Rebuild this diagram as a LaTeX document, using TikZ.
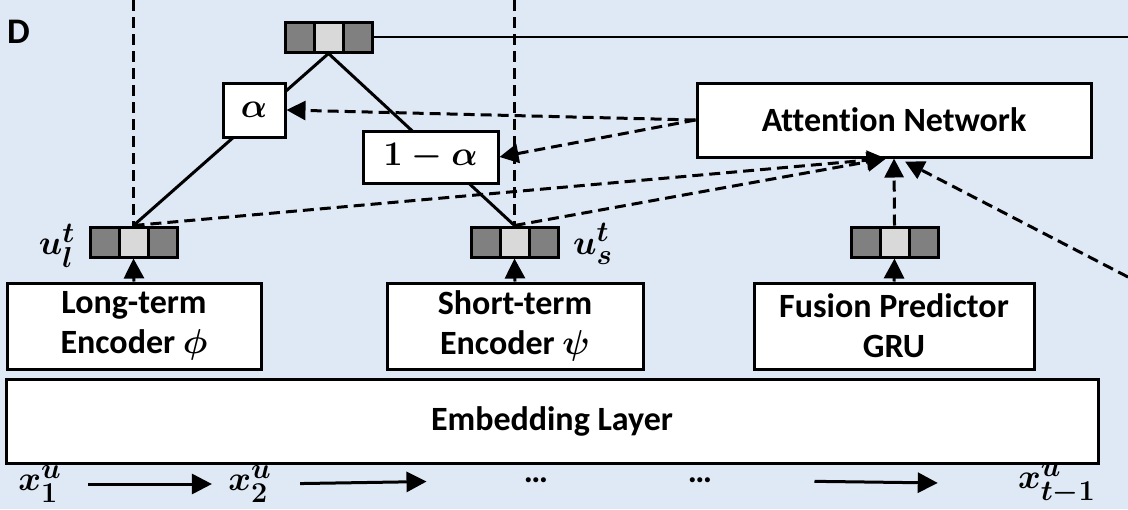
\documentclass[tikz,border=0pt]{standalone}
\usepackage{fontspec}
\setmainfont{Carlito}[Ligatures=NoCommon]
\usepackage{amsmath,bm}
\usetikzlibrary{arrows.meta,calc}
\pgfdeclarelayer{bg}
\pgfdeclarelayer{lines}
\pgfsetlayers{bg,lines,main}
\definecolor{bgblue}{HTML}{DEE9F5}
\definecolor{cdark}{HTML}{808080}
\definecolor{clight}{HTML}{D9D9D9}
\tikzset{
  box/.style={draw, line width=1.5pt, fill=white, inner sep=0pt, align=center,
    font=\fontsize{17}{20}\selectfont\bfseries},
  celld/.style={draw, line width=1.5pt, fill=cdark, minimum width=14.5pt,
    minimum height=15pt, inner sep=0pt},
  celll/.style={celld, fill=clight},
  solidarrow/.style={line width=1.5pt, -{Triangle[length=10pt,width=10pt]}},
  dasharrow/.style={line width=1.5pt, dash pattern=on 5.5pt off 3pt,
    -{Triangle[length=9.5pt,width=9.5pt]}},
  dashline/.style={line width=1.5pt, dash pattern=on 5.5pt off 3pt},
  link/.style={line width=1.5pt},
  thinlink/.style={line width=1pt},
  mathlbl/.style={font=\fontsize{19}{20}\selectfont\boldmath, inner sep=0pt},
  dots/.style={font=\fontsize{17}{20}\selectfont\bfseries, inner sep=0pt},
}
\newcommand\myvector[3]{%
  \node[celld] (#1-l) at (#2-29,#3) {};
  \node[celld] (#1-r) at (#2+29,#3) {};
  \node[celll] (#1) at (#2,#3) {};
}
\begin{document}
\begin{tikzpicture}[x=0.5pt,y=-0.5pt]
\useasboundingbox (0,0) rectangle (1128,509);
\begin{pgfonlayer}{bg}
  \fill[bgblue] (0,0) rectangle (1128,509);
\end{pgfonlayer}

% label D
\node[font=\fontsize{18}{20}\selectfont\bfseries, inner sep=0pt] (D) at (18.5,32) {D};

% vectors
\myvector{top}{328.5}{37}
\myvector{ul}{133.5}{242}
\myvector{us}{514.5}{242}
\myvector{fv}{894.5}{242}

% boxes
\node[box, minimum width=31pt, minimum height=27pt, font=\fontsize{19}{20}\selectfont\boldmath] (alpha) at (254,110) {$\alpha$};
\node[box, minimum width=67.5pt, minimum height=26pt, font=\fontsize{18}{20}\selectfont\boldmath] (oma) at (430.5,157) {$1-\alpha$};
\node[box, minimum width=197pt, minimum height=37pt] (att) at (894,120) {Attention Network};
\node[box, minimum width=127pt, minimum height=43pt] (lte) at (134,326) {Long-term\\Encoder $\bm{\phi}$};
\node[box, minimum width=128pt, minimum height=43pt] (ste) at (515,326) {Short-term\\Encoder $\bm{\psi}$};
\node[box, minimum width=140pt, minimum height=43pt] (fpg) at (894,326) {Fusion Predictor\\GRU};
\node[box, minimum width=546pt, minimum height=42pt] (emb) at (552,421) {Embedding Layer};

% labels
\node[mathlbl] (lul) at (57,246) {$u_l^t$};
\node[mathlbl] (lus) at (593,244) {$u_s^t$};
\node[mathlbl] (x1) at (40,484) {$x_1^u$};
\node[mathlbl] (x2) at (250,484) {$x_2^u$};
\node[mathlbl] (xt) at (1057,484) {$x_{t-1}^u$};
\node[dots] (d1) at (536,480) {…};
\node[dots] (d2) at (700,480) {…};

% free ends
\coordinate (tl) at (133.5,0);
\coordinate (ts) at (514.5,0);
\coordinate (re) at (1128,37);
\coordinate (rd) at (1128,277);

% solid links behind boxes
\begin{pgfonlayer}{lines}
  \draw[link] (top.south) -- (ul.north);
  \draw[link] (top.south) -- (us.north);
\end{pgfonlayer}

\draw[thinlink] (top-r.east) -- (re);
\draw[dashline] (tl) -- (ul.north);
\draw[dashline] (ts) -- (us.north);

% encoder outputs
\draw[solidarrow] (lte.north) -- (ul.south);
\draw[solidarrow] (ste.north) -- (us.south);
\draw[solidarrow] (fpg.north) -- (fv.south);

% attention connections
\draw[dasharrow] (att.west) -- (alpha.east);
\draw[dasharrow] (att.west) -- (oma.east);
\draw[dasharrow] (ul.north) -- ([xshift=-4pt]att.south);
\draw[dasharrow] (us.north) -- ([xshift=-4pt]att.south);
\draw[dasharrow] (fv.north) -- (att.south);
\draw[dasharrow] (rd) -- ([xshift=5.5pt,yshift=-1.5pt]att.south);

% sequence arrows
\draw[solidarrow, shorten <=13pt, shorten >=8pt] (x1.east) -- (x2.west);
\draw[solidarrow, shorten <=14pt, shorten >=48.5pt] (x2.east) -- (d1.west);
\draw[solidarrow, shorten <=51pt, shorten >=40pt] (d2.east) -- (xt.west);
\end{tikzpicture}
\end{document}
